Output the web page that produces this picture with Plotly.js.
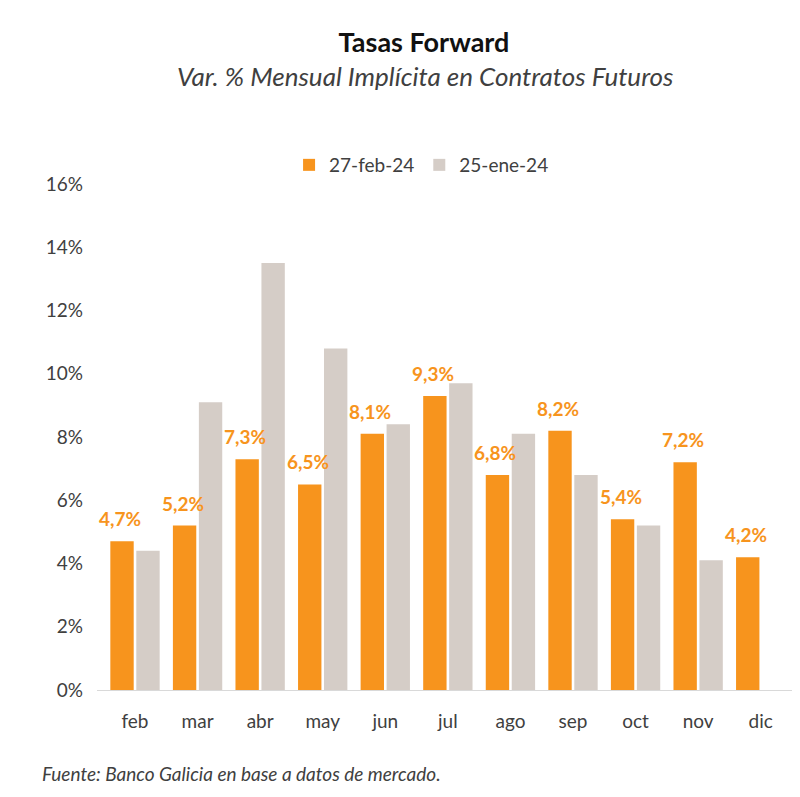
<!DOCTYPE html>
<html>
<head>
<meta charset="utf-8">
<script src="https://cdn.plot.ly/plotly-3.0.1.min.js"></script>
<style>html,body{margin:0;padding:0;background:#fff;}#chart{width:800px;height:797px;}</style>
</head>
<body>
<div id="chart"></div>
<script>
const months = ['feb','mar','abr','may','jun','jul','ago','sep','oct','nov','dic'];
const feb27 = [4.7, 5.2, 7.3, 6.5, 8.1, 9.3, 6.8, 8.2, 5.4, 7.2, 4.2];
const ene25 = [4.4, 9.1, 13.5, 10.8, 8.4, 9.7, 8.1, 6.8, 5.2, 4.1, null];
const seriesNames = ['27-feb-24', '25-ene-24'];
const yTicks = [0, 2, 4, 6, 8, 10, 12, 14, 16];

const FONT = 'Lato, "Open Sans", sans-serif';
const ORANGE = '#F7941D';
const GREY = '#D5CDC7';

const traces = [
  {
    type: 'bar', name: seriesNames[0], x: months, y: feb27,
    marker: {color: ORANGE},
    hoverinfo: 'skip'
  },
  {
    type: 'bar', name: seriesNames[1], x: months, y: ene25,
    marker: {color: GREY},
    hoverinfo: 'skip'
  }
];

const fmt = v => v.toFixed(1).replace('.', ',') + '%';
const labelAnns = months.map((m, i) => ({
  x: m, y: feb27[i], xref: 'x', yref: 'y',
  text: '<b>' + fmt(feb27[i]) + '</b>',
  showarrow: false, xanchor: 'center', yanchor: 'bottom',
  xshift: -15, yshift: 9,
  font: {family: FONT, size: 19, color: ORANGE}
}));

const layout = {
  width: 800, height: 797,
  font: {family: FONT, size: 18, color: '#404040'},
  paper_bgcolor: '#fff', plot_bgcolor: '#fff',
  margin: {l: 97, r: 8, t: 184, b: 107},
  barmode: 'group', bargap: 0.17, bargroupgap: 0.1,
  showlegend: true,
  title: {
    text: '<b>Tasas Forward</b>',
    font: {family: FONT, size: 27, color: '#111'},
    x: 0.53, xanchor: 'center', xref: 'container',
    y: 0.947, yanchor: 'middle', yref: 'container'
  },
  legend: {
    orientation: 'h', x: 0.467, xanchor: 'center', xref: 'paper',
    y: 1.0, yanchor: 'bottom', yref: 'paper',
    font: {family: FONT, size: 19, color: '#404040'},
    itemwidth: 20, traceorder: 'normal'
  },
  xaxis: {
    type: 'category', showgrid: false, zeroline: false,
    showline: true, linecolor: '#D9D9D9', linewidth: 1,
    ticks: '', tickfont: {family: FONT, size: 19, color: '#404040'},
    ticklabelstandoff: 14
  },
  yaxis: {
    range: [0, 16], tickvals: yTicks, ticktext: yTicks.map(v => v + '%'),
    showgrid: false, zeroline: false, showline: false, ticks: '',
    tickfont: {family: FONT, size: 19, color: '#404040'},
    ticklabelstandoff: 13
  },
  annotations: [
    {
      text: '<i>Var. % Mensual Implícita en Contratos Futuros</i>',
      xref: 'paper', yref: 'paper', x: 0.472, y: 1.0, xanchor: 'center', yanchor: 'middle',
      yshift: 108, showarrow: false,
      font: {family: FONT, size: 26, color: '#404040'}
    },
    {
      text: '<i>Fuente: Banco Galicia en base a datos de mercado.</i>',
      xref: 'paper', yref: 'paper', x: 0, y: 0, xanchor: 'left', yanchor: 'middle',
      xshift: -57, yshift: -83, showarrow: false,
      font: {family: FONT, size: 19, color: '#404040'}
    }
  ].concat(labelAnns)
};

Plotly.newPlot('chart', traces, layout, {displayModeBar: false, staticPlot: true});
</script>
</body>
</html>
